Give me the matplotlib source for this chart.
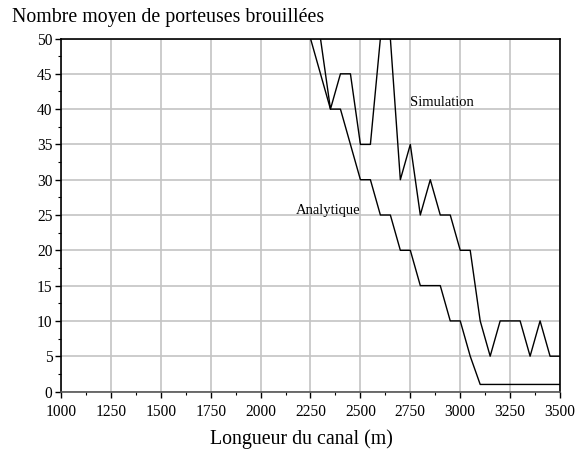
import numpy as np
import matplotlib.pyplot as plt
from matplotlib.ticker import MultipleLocator

# --- Données ---
longueur = [2250, 2300, 2350, 2400, 2450, 2500, 2550, 2600, 2650, 2700,
            2750, 2800, 2850, 2900, 2950, 3000, 3050, 3100, 3150, 3200,
            3250, 3300, 3350, 3400, 3450, 3500]
analytique = [50, 45, 40, 40, 35, 30, 30, 25, 25, 20,
              20, 15, 15, 15, 10, 10, 5, 1, 1, 1,
              1, 1, 1, 1, 1, 1]
simulation = [55, 50, 40, 45, 45, 35, 35, 50, 50, 30,
              35, 25, 30, 25, 25, 20, 20, 10, 5, 10,
              10, 10, 5, 10, 5, 5]

plt.rcParams["font.family"] = ["Liberation Serif", "DejaVu Serif"]

fig = plt.figure(figsize=(5.75, 4.5), dpi=100)
ax = fig.add_axes([0.106, 0.130, 0.868, 0.7844])

ax.plot(longueur, simulation, color="black", linewidth=1.0)
ax.plot(longueur, analytique, color="black", linewidth=1.0)

ax.set_xlim(1000, 3500)
ax.set_ylim(0, 50)
ax.xaxis.set_major_locator(MultipleLocator(250))
ax.xaxis.set_minor_locator(MultipleLocator(125))
ax.yaxis.set_major_locator(MultipleLocator(5))
ax.yaxis.set_minor_locator(MultipleLocator(2.5))
ax.grid(True, which="major", color="#c4c4c4", linewidth=1.2)
ax.set_axisbelow(True)
ax.tick_params(which="major", direction="out", length=4, width=1, labelsize=11.2)
ax.tick_params(axis="x", which="major", pad=5)
ax.tick_params(axis="y", which="major", pad=2)
ax.tick_params(which="minor", direction="out", length=2.5, width=0.8)

for s in ax.spines.values():
    s.set_linewidth(1.2)
ax.spines["bottom"].set_color("#555555")

ax.text(2750, 41, "Simulation", fontsize=10.5, va="center", ha="left")
ax.text(2500, 25.6, "Analytique", fontsize=10.5, va="center", ha="right")

fig.text(0.021, 0.962, "Nombre moyen de porteuses brouillées", fontsize=14.3, va="center", ha="left")
fig.text(0.525, 0.024, "Longueur du canal (m)", fontsize=14.3, va="center", ha="center")

plt.savefig("out.png", dpi=100)
